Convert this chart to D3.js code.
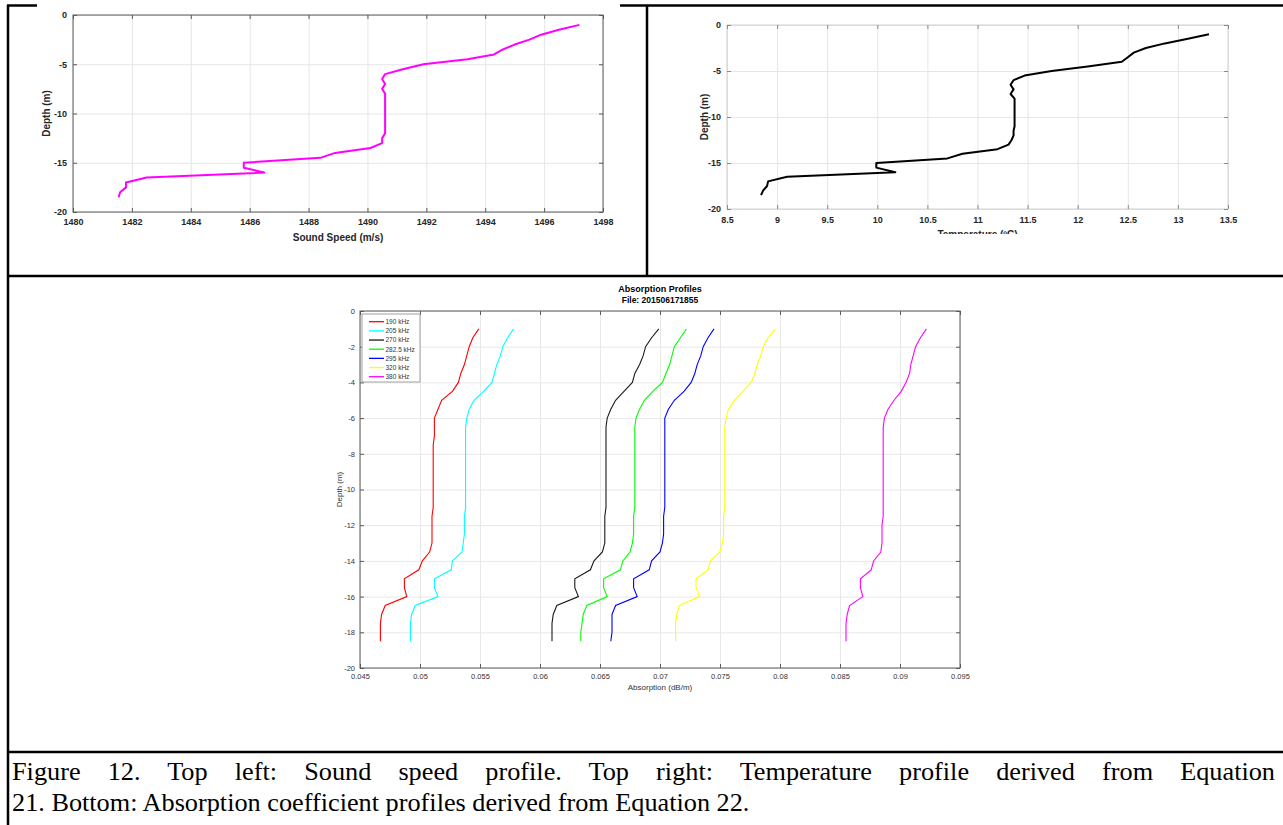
<!DOCTYPE html>
<html>
<head>
<meta charset="utf-8">
<script src="https://cdn.jsdelivr.net/npm/d3@7"></script>
<style>
  body { margin: 0; background: #fff; }
  svg { display: block; }
</style>
</head>
<body>
<svg id="fig" width="1283" height="825"></svg>
<script>
// depth samples (m), shared by all profiles
const depth = [-1, -1.5, -2, -2.5, -3, -3.5, -4, -4.5, -5, -5.5, -6, -6.5, -7, -7.5, -8, -8.5, -9, -9.5,
  -10, -10.5, -11, -11.5, -12, -12.5, -13, -13.5, -14, -14.5, -15, -15.5, -16, -16.5, -17, -17.5, -18, -18.5];

// sound speed (m/s)
const soundSpeed = [1497.2, 1496.5, 1495.9, 1495.5, 1495.0, 1494.6, 1494.3, 1493.4, 1491.9, 1491.2, 1490.6, 1490.5,
  1490.6, 1490.5, 1490.6, 1490.6, 1490.6, 1490.6, 1490.6, 1490.6, 1490.6, 1490.6, 1490.6, 1490.5, 1490.5, 1490.1,
  1488.9, 1488.4, 1485.8, 1485.8, 1486.5, 1482.5, 1481.8, 1481.8, 1481.6, 1481.55];

// temperature (ºC)
const temperature = [13.31, 13.10, 12.87, 12.68, 12.56, 12.50, 12.44, 12.10, 11.74, 11.47, 11.36, 11.33,
  11.36, 11.33, 11.37, 11.37, 11.37, 11.37, 11.37, 11.37, 11.37, 11.36, 11.36, 11.34, 11.31, 11.20,
  10.85, 10.70, 9.99, 9.99, 10.18, 9.10, 8.91, 8.90, 8.86, 8.84];

// absorption (dB/m) per frequency
const abs190 = [0.0549, 0.0544, 0.0541, 0.0539, 0.0537, 0.0534, 0.0532, 0.0527, 0.0518, 0.0515, 0.0512, 0.0512,
  0.0512, 0.0511, 0.0511, 0.0511, 0.0511, 0.0511, 0.0511, 0.0511, 0.0511, 0.0510, 0.0510, 0.0510, 0.0510, 0.0508,
  0.0502, 0.0499, 0.0487, 0.0487, 0.0489, 0.0471, 0.0468, 0.0467, 0.0467, 0.0467];
const abs205 = [0.0578, 0.0573, 0.0569, 0.0567, 0.0564, 0.0562, 0.0560, 0.0553, 0.0545, 0.0541, 0.0539, 0.0538,
  0.0538, 0.0538, 0.0538, 0.0538, 0.0538, 0.0538, 0.0538, 0.0538, 0.0538, 0.0537, 0.0537, 0.0537, 0.0536, 0.0535,
  0.0527, 0.0526, 0.0512, 0.0512, 0.0515, 0.0496, 0.0493, 0.0492, 0.0492, 0.0492];
const abs270 = [0.0699, 0.0693, 0.0688, 0.0686, 0.0683, 0.0679, 0.0677, 0.0670, 0.0663, 0.0659, 0.0656, 0.0655,
  0.0655, 0.0655, 0.0655, 0.0655, 0.0655, 0.0655, 0.0655, 0.0655, 0.0655, 0.0654, 0.0654, 0.0654, 0.0654, 0.0652,
  0.0645, 0.0642, 0.0629, 0.0629, 0.0632, 0.0614, 0.0611, 0.0610, 0.0610, 0.0610];
const abs282 = [0.0722, 0.0717, 0.0712, 0.0710, 0.0708, 0.0705, 0.0702, 0.0694, 0.0687, 0.0683, 0.0680, 0.0679,
  0.0679, 0.0679, 0.0679, 0.0679, 0.0679, 0.0679, 0.0679, 0.0679, 0.0679, 0.0678, 0.0678, 0.0678, 0.0677, 0.0675,
  0.0669, 0.0667, 0.0653, 0.0653, 0.0656, 0.0639, 0.0636, 0.0635, 0.0634, 0.0634];
const abs295 = [0.0745, 0.0740, 0.0736, 0.0734, 0.0731, 0.0729, 0.0726, 0.0720, 0.0712, 0.0707, 0.0704, 0.0704,
  0.0704, 0.0704, 0.0704, 0.0704, 0.0704, 0.0704, 0.0704, 0.0704, 0.0704, 0.0703, 0.0703, 0.0703, 0.0702, 0.0700,
  0.0693, 0.0691, 0.0678, 0.0678, 0.0681, 0.0663, 0.0660, 0.0660, 0.0660, 0.0659];
const abs320 = [0.0796, 0.0790, 0.0786, 0.0784, 0.0781, 0.0779, 0.0776, 0.0769, 0.0762, 0.0757, 0.0755, 0.0754,
  0.0754, 0.0754, 0.0754, 0.0754, 0.0754, 0.0754, 0.0754, 0.0754, 0.0754, 0.0753, 0.0753, 0.0753, 0.0752, 0.0750,
  0.0742, 0.0740, 0.0730, 0.0730, 0.0733, 0.0716, 0.0714, 0.0713, 0.0713, 0.0713];
const abs380 = [0.0922, 0.0917, 0.0913, 0.0911, 0.0909, 0.0908, 0.0905, 0.0901, 0.0895, 0.0890, 0.0887, 0.0886,
  0.0886, 0.0886, 0.0886, 0.0886, 0.0886, 0.0886, 0.0886, 0.0886, 0.0886, 0.0886, 0.0885, 0.0885, 0.0885, 0.0884,
  0.0878, 0.0876, 0.0867, 0.0867, 0.0869, 0.0858, 0.0856, 0.0855, 0.0855, 0.0855];

const freqLabels = ["190 kHz", "205 kHz", "270 kHz", "282.5 kHz", "295 kHz", "320 kHz", "380 kHz"];
const freqColors = ["#ff0000", "#00ffff", "#1a1a1a", "#00ff00", "#0000ff", "#ffff00", "#ff00ff"];
const absSeries = [abs190, abs205, abs270, abs282, abs295, abs320, abs380];

// tick labels
const soundTicks = [1480, 1482, 1484, 1486, 1488, 1490, 1492, 1494, 1496, 1498];
const tempTicks = [8.5, 9, 9.5, 10, 10.5, 11, 11.5, 12, 12.5, 13, 13.5];
const depthTicksTop = [0, -5, -10, -15, -20];
const absTicks = [0.045, 0.05, 0.055, 0.06, 0.065, 0.07, 0.075, 0.08, 0.085, 0.09, 0.095];
const depthTicksBottom = [0, -2, -4, -6, -8, -10, -12, -14, -16, -18, -20];

const captionLines = [
  "Figure 12. Top left: Sound speed profile. Top right: Temperature profile derived from Equation",
  "21. Bottom: Absorption coefficient profiles derived from Equation 22."
];

const svg = d3.select("#fig");
svg.append("rect").attr("width", 1283).attr("height", 825).attr("fill", "#fff");

// 설치된 폰트 확인
function fontAvailable(name) {
  const c = document.createElement("canvas").getContext("2d");
  const s = "mmmmmmmmmmlli Figure 12 WQq";
  return ["monospace", "sans-serif"].some(base => {
    c.font = `40px ${base}`;
    const w0 = c.measureText(s).width;
    c.font = `40px '${name}', ${base}`;
    return c.measureText(s).width !== w0;
  });
}
const serifFont = ["Liberation Serif", "Times New Roman", "Tinos", "Nimbus Roman", "DejaVu Serif"]
  .find(fontAvailable) || "serif";

// 축 + 격자 그리기
function drawPanel(p) {
  const x = d3.scaleLinear().domain(p.xDomain).range([p.left, p.right]);
  const y = d3.scaleLinear().domain(p.yDomain).range([p.bottom, p.top]);
  const g = svg.append("g");
  if (p.clip) {
    const id = "clip" + p.name;
    svg.append("clipPath").attr("id", id).append("rect")
      .attr("x", p.clip[0]).attr("y", p.clip[1]).attr("width", p.clip[2]).attr("height", p.clip[3]);
    g.attr("clip-path", `url(#${id})`);
  }
  const w = p.right - p.left, h = p.bottom - p.top;
  const fmt = d => String(d);

  // grid
  g.append("g").attr("transform", `translate(0,${p.bottom})`)
    .call(d3.axisBottom(x).tickValues(p.xTicks).tickSize(-h).tickFormat(""))
    .call(a => a.select(".domain").remove())
    .selectAll("line").attr("stroke", p.gridColor).attr("stroke-width", 1);
  g.append("g").attr("transform", `translate(${p.left},0)`)
    .call(d3.axisLeft(y).tickValues(p.yTicks).tickSize(-w).tickFormat(""))
    .call(a => a.select(".domain").remove())
    .selectAll("line").attr("stroke", p.gridColor).attr("stroke-width", 1);

  // box
  g.append("rect").attr("x", p.left).attr("y", p.top).attr("width", w).attr("height", h)
    .attr("fill", "none").attr("stroke", p.boxColor).attr("stroke-width", 1);

  const styleAxis = a => {
    a.select(".domain").remove();
    a.selectAll("line").attr("stroke", p.axisColor);
    a.selectAll("text").attr("font-family", "'Liberation Sans', Arial, sans-serif")
      .attr("font-size", p.tickFont).attr("font-weight", p.bold ? "bold" : "normal")
      .attr("fill", p.textColor);
  };
  // ticks inside on all four sides, labels on bottom / left
  g.append("g").attr("transform", `translate(0,${p.bottom})`)
    .call(d3.axisBottom(x).tickValues(p.xTicks).tickSizeInner(-p.tickLen).tickSizeOuter(0).tickPadding(p.xPad).tickFormat(fmt))
    .call(styleAxis);
  g.append("g").attr("transform", `translate(0,${p.top})`)
    .call(d3.axisTop(x).tickValues(p.xTicks).tickSizeInner(-p.tickLen).tickSizeOuter(0).tickFormat(""))
    .call(styleAxis);
  g.append("g").attr("transform", `translate(${p.left},0)`)
    .call(d3.axisLeft(y).tickValues(p.yTicks).tickSizeInner(-p.tickLen).tickSizeOuter(0).tickPadding(p.yPad).tickFormat(fmt))
    .call(styleAxis);
  g.append("g").attr("transform", `translate(${p.right},0)`)
    .call(d3.axisRight(y).tickValues(p.yTicks).tickSizeInner(-p.tickLen).tickSizeOuter(0).tickFormat(""))
    .call(styleAxis);

  // axis titles
  g.append("text").attr("x", (p.left + p.right) / 2).attr("y", p.xTitleY)
    .attr("text-anchor", "middle").attr("font-family", "'Liberation Sans', Arial, sans-serif")
    .attr("font-size", p.titleFont).attr("font-weight", p.bold ? "bold" : "normal")
    .attr("fill", p.textColor).text(p.xTitle);
  g.append("text").attr("transform", `translate(${p.yTitleX},${(p.top + p.bottom) / 2}) rotate(-90)`)
    .attr("text-anchor", "middle").attr("font-family", "'Liberation Sans', Arial, sans-serif")
    .attr("font-size", p.titleFont).attr("font-weight", p.bold ? "bold" : "normal")
    .attr("fill", p.textColor).text(p.yTitle);

  return { x, y, g };
}

// ---- top left: sound speed ----
const pSound = drawPanel({
  name: "sound", left: 73, right: 603, top: 15, bottom: 212,
  xDomain: [1480, 1498], yDomain: [-20, 0], xTicks: soundTicks, yTicks: depthTicksTop,
  gridColor: "#e6e6e6", boxColor: "#5a5a5a", axisColor: "#5a5a5a", textColor: "#262626",
  tickLen: 4, tickFont: 9, titleFont: 10, bold: true, xPad: 7, yPad: 6,
  xTitle: "Sound Speed (m/s)", xTitleY: 241, yTitle: "Depth (m)", yTitleX: 50
});
pSound.g.append("path").datum(depth)
  .attr("fill", "none").attr("stroke", "#ff00ff").attr("stroke-width", 2).attr("stroke-linejoin", "round")
  .attr("d", d3.line().x((d, i) => pSound.x(soundSpeed[i])).y(d => pSound.y(d)));

// ---- top right: temperature ----
const pTemp = drawPanel({
  name: "temp", left: 727, right: 1228, top: 25, bottom: 209,
  xDomain: [8.5, 13.5], yDomain: [-20, 0], xTicks: tempTicks, yTicks: depthTicksTop,
  gridColor: "#e6e6e6", boxColor: "#d0d0d0", axisColor: "#8a8a8a", textColor: "#262626",
  tickLen: 4, tickFont: 9, titleFont: 10, bold: true, xPad: 8, yPad: 6,
  xTitle: "Temperature (ºC)", xTitleY: 238, yTitle: "Depth (m)", yTitleX: 708,
  clip: [650, 8, 633, 226]
});
pTemp.g.append("path").datum(depth)
  .attr("fill", "none").attr("stroke", "#000").attr("stroke-width", 2).attr("stroke-linejoin", "round")
  .attr("d", d3.line().x((d, i) => pTemp.x(temperature[i])).y(d => pTemp.y(d)));

// ---- bottom: absorption ----
const pAbs = drawPanel({
  name: "abs", left: 360, right: 960, top: 311, bottom: 668,
  xDomain: [0.045, 0.095], yDomain: [-20, 0], xTicks: absTicks, yTicks: depthTicksBottom,
  gridColor: "#e8e8e8", boxColor: "#5a5a5a", axisColor: "#5a5a5a", textColor: "#333",
  tickLen: 4, tickFont: 7.5, titleFont: 8, bold: false, xPad: 6, yPad: 5,
  xTitle: "Absorption (dB/m)", xTitleY: 690, yTitle: "Depth (m)", yTitleX: 342
});
absSeries.forEach((vals, k) => {
  pAbs.g.append("path").datum(depth)
    .attr("fill", "none").attr("stroke", freqColors[k]).attr("stroke-width", 1.1)
    .attr("d", d3.line().x((d, i) => pAbs.x(vals[i])).y(d => pAbs.y(d)));
});
pAbs.g.append("text").attr("x", 660).attr("y", 292).attr("text-anchor", "middle")
  .attr("font-family", "'Liberation Sans', Arial, sans-serif").attr("font-size", 9).attr("font-weight", "bold")
  .text("Absorption Profiles");
pAbs.g.append("text").attr("x", 660).attr("y", 303).attr("text-anchor", "middle")
  .attr("font-family", "'Liberation Sans', Arial, sans-serif").attr("font-size", 8.5).attr("font-weight", "bold")
  .text("File: 201506171855");

// legend
const leg = pAbs.g.append("g");
leg.append("rect").attr("x", 362).attr("y", 314).attr("width", 58).attr("height", 68)
  .attr("fill", "#fff").attr("stroke", "#a0a0a0").attr("stroke-width", 1);
freqLabels.forEach((lab, i) => {
  const ly = 321.7 + i * 9.17;
  leg.append("line").attr("x1", 369).attr("x2", 384).attr("y1", ly).attr("y2", ly)
    .attr("stroke", freqColors[i]).attr("stroke-width", 1.3);
  leg.append("text").attr("x", 385.5).attr("y", ly + 2.3)
    .attr("font-family", "'Liberation Sans', Arial, sans-serif").attr("font-size", 6.5).attr("fill", "#333")
    .text(lab);
});

// ---- table borders ----
const border = [
  [8, 5, 8, 825],        // left
  [7, 5.5, 37, 5.5],     // top, left piece
  [620, 5.5, 1283, 5.5], // top, right piece
  [647, 5, 647, 276],    // middle divider
  [7, 276, 1283, 276],   // row divider
  [7, 752, 1283, 752]    // caption divider
];
svg.append("g").selectAll("line").data(border).join("line")
  .attr("x1", d => d[0]).attr("y1", d => d[1]).attr("x2", d => d[2]).attr("y2", d => d[3])
  .attr("stroke", "#000").attr("stroke-width", 2.5);

// ---- caption: first line justified ----
const capLeft = 12, capRight = 1275, capLine2End = 750;
const capNodes = captionLines.map((t, i) =>
  svg.append("text").attr("x", 0).attr("y", 0)
    .attr("font-family", `'${serifFont}', serif`).attr("font-size", 25).attr("fill", "#000")
    .text(t));
const sx = (capLine2End - capLeft) / capNodes[1].node().getComputedTextLength();
capNodes.forEach((n, i) => n.attr("transform", `translate(${capLeft},${780 + i * 31}) scale(${sx},1)`));
const w1 = capNodes[0].node().getComputedTextLength();
const nSpaces = captionLines[0].split(" ").length - 1;
capNodes[0].attr("word-spacing", ((capRight - capLeft) / sx - w1) / nSpaces);
</script>
</body>
</html>
